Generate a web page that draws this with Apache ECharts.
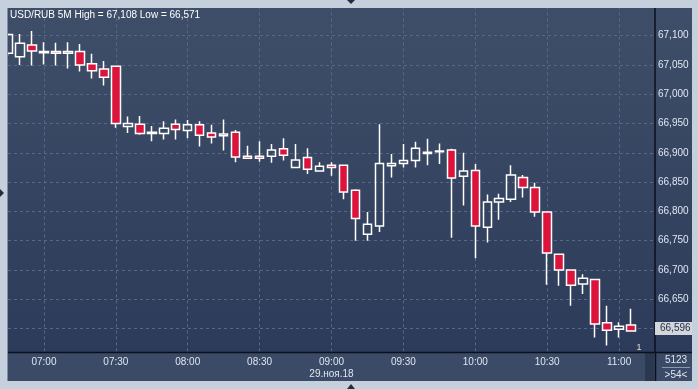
<!DOCTYPE html>
<html>
<head>
<meta charset="utf-8">
<script src="https://cdn.jsdelivr.net/npm/echarts@6/dist/echarts.min.js"></script>
<style>
html,body{margin:0;padding:0;background:#c6d0dc;}
#c{width:698px;height:389px;}
</style>
</head>
<body>
<div id="c"></div>
<script>
// 5-minute slots from 06:45 to 11:15
const categories = ['06:45','06:50','06:55','07:00','07:05','07:10','07:15','07:20','07:25','07:30','07:35','07:40','07:45','07:50','07:55','08:00','08:05','08:10','08:15','08:20','08:25','08:30','08:35','08:40','08:45','08:50','08:55','09:00','09:05','09:10','09:15','09:20','09:25','09:30','09:35','09:40','09:45','09:50','09:55','10:00','10:05','10:10','10:15','10:20','10:25','10:30','10:35','10:40','10:45','10:50','10:55','11:00','11:05','11:10','11:15'];
const openVals  = [67.070,67.064,67.084,67.071,67.073,67.070,67.073,67.052,67.043,67.048,66.945,66.949,66.933,66.933,66.949,66.938,66.948,66.934,66.929,66.935,66.894,66.894,66.894,66.907,66.875,66.892,66.869,66.879,66.879,66.836,66.761,66.775,66.878,66.882,66.887,66.899,66.902,66.905,66.860,66.870,66.773,66.816,66.821,66.858,66.841,66.799,66.727,66.700,66.676,66.684,66.610,66.599,66.606];
const closeVals = [67.102,67.087,67.074,67.073,67.070,67.073,67.050,67.040,67.029,66.950,66.950,66.933,66.935,66.942,66.940,66.948,66.930,66.927,66.932,66.893,66.891,66.891,66.905,66.896,66.888,66.872,66.877,66.875,66.833,66.788,66.778,66.882,66.882,66.887,66.908,66.901,66.903,66.857,66.869,66.775,66.816,66.822,66.862,66.841,66.799,66.729,66.700,66.674,66.686,66.608,66.597,66.604,66.596];
const lowVals   = [67.066,67.050,67.049,67.051,67.049,67.044,67.039,67.027,67.015,66.943,66.934,66.931,66.920,66.923,66.923,66.925,66.911,66.916,66.904,66.884,66.890,66.885,66.883,66.887,66.875,66.864,66.869,66.861,66.821,66.750,66.750,66.765,66.858,66.875,66.875,66.879,66.881,66.755,66.810,66.720,66.747,66.786,66.816,66.824,66.791,66.675,66.673,66.639,66.659,66.585,66.571,66.585,66.596];
const highVals  = [67.104,67.103,67.108,67.089,67.088,67.089,67.086,67.069,67.057,67.048,66.962,66.963,66.946,66.954,66.957,66.956,66.954,66.948,66.957,66.939,66.912,66.920,66.915,66.925,66.915,66.908,66.884,66.884,66.879,66.838,66.799,66.949,66.898,66.915,66.919,66.924,66.916,66.907,66.900,66.881,66.829,66.830,66.879,66.862,66.849,66.799,66.727,66.700,66.693,66.684,66.639,66.611,66.634];
const yTickMin = 66.55, yTickMax = 67.15, yTickStep = 0.05;
const titleText = 'USD/RUB 5M High = 67,108 Low = 66,571';
const dateLabel = '29.ноя.18';
const dateLabelAt = '09:00';
const panelTop = '5123', panelBottom = '>54<';

const fmt = v => v.toFixed(3).replace('.', ',');
const candles = openVals.map((o, i) => [o, closeVals[i], lowVals[i], highVals[i]]);
const lastClose = closeVals[closeVals.length - 1];
const isMajor = (idx, val) => /:(00|30)$/.test(val);
const FONT = 'Liberation Sans';
const frame = '#c6d0dc';

const chart = echarts.init(document.getElementById('c'), null, {renderer: 'canvas'});
chart.setOption({
  animation: false,
  backgroundColor: frame,
  textStyle: {fontFamily: FONT},
  grid: {left: 8, right: 43, top: 6.4, bottom: 31.1, containLabel: false},
  xAxis: [{
    type: 'category', data: categories, boundaryGap: false, position: 'bottom',
    axisLine: {show: false}, axisTick: {show: false}, axisLabel: {show: false},
    splitLine: {show: true, interval: isMajor, lineStyle: {color: '#56678a', type: [3, 3], width: 1}}
  }, {
    type: 'category', data: categories, boundaryGap: false, position: 'bottom', z: 10,
    axisLine: {show: false}, axisTick: {show: false}, splitLine: {show: false},
    axisLabel: {
      show: true, interval: isMajor, margin: -2, color: '#dfe6f0', fontSize: 10,
      fontFamily: FONT, lineHeight: 12,
      formatter: v => v === dateLabelAt ? v + '\n' + dateLabel : v
    }
  }],
  yAxis: {
    type: 'value', position: 'right', min: yTickMin, max: yTickMax, interval: yTickStep,
    axisLine: {show: true, lineStyle: {color: '#0b111c', width: 1.5}},
    axisTick: {show: false},
    axisLabel: {color: '#dfe7f3', fontSize: 10, fontFamily: FONT, margin: 3,
      showMinLabel: false, showMaxLabel: false, formatter: fmt},
    splitLine: {show: true, lineStyle: {color: '#56678a', type: [3, 3], width: 1}}
  },
  series: [{
    type: 'candlestick', xAxisIndex: 0, data: candles, barWidth: 9, clip: true,
    itemStyle: {color: 'transparent', color0: '#dc143c', borderColor: '#ffffff', borderColor0: '#ffffff', borderWidth: 1.5},
    markLine: {
      silent: true, symbol: 'none', animation: false,
      lineStyle: {color: 'transparent', width: 0},
      data: [{yAxis: lastClose}],
      label: {show: true, position: 'end', distance: 0, formatter: () => fmt(lastClose),
        backgroundColor: '#d3d6db', color: '#1d2b45', fontSize: 10, fontFamily: FONT,
        padding: [2, 5, 1, 5], borderRadius: [0, 1, 1, 0]}
    }
  }],
  graphic: [
    // panel background gradient
    {type: 'rect', z: -100, silent: true, shape: {x: 8, y: 8, width: 684, height: 344},
      style: {fill: new echarts.graphic.LinearGradient(0, 0, 0, 1, [{offset: 0, color: '#3f4e68'}, {offset: 1, color: '#2c3b59'}])}},
    // bottom axis strip
    {type: 'rect', z: 5, silent: true, shape: {x: 8, y: 352, width: 684, height: 29}, style: {fill: '#3b4a66'}},
    {type: 'rect', z: 6, silent: true, shape: {x: 645, y: 353, width: 9, height: 28}, style: {fill: '#2a3850'}},
    {type: 'line', z: 6, silent: true, shape: {x1: 8, y1: 352.5, x2: 692, y2: 352.5}, style: {stroke: '#0b111c', lineWidth: 1.5}},
    {type: 'line', z: 6, silent: true, shape: {x1: 655.5, y1: 352, x2: 655.5, y2: 381}, style: {stroke: '#0b111c', lineWidth: 1.5}},
    {type: 'text', z: 11, silent: true, style: {text: panelTop, x: 676, y: 360, align: 'center', verticalAlign: 'middle', fill: '#dfe6f0', font: '10px "Liberation Sans"'}},
    {type: 'line', z: 11, silent: true, shape: {x1: 662, y1: 367.5, x2: 690, y2: 367.5}, style: {stroke: '#8c9ab0', lineWidth: 1}},
    {type: 'text', z: 11, silent: true, style: {text: panelBottom, x: 676, y: 375, align: 'center', verticalAlign: 'middle', fill: '#dfe6f0', font: '10px "Liberation Sans"'}},
    {type: 'text', z: 11, silent: true, style: {text: '1', x: 639, y: 348, align: 'center', verticalAlign: 'middle', fill: '#e8dcc0', font: '9px "Liberation Sans"'}},
    // outer frame
    {type: 'rect', z: 20, silent: true, shape: {x: 0, y: 0, width: 698, height: 8}, style: {fill: frame}},
    {type: 'rect', z: 20, silent: true, shape: {x: 0, y: 381, width: 698, height: 8}, style: {fill: frame}},
    {type: 'rect', z: 20, silent: true, shape: {x: 0, y: 0, width: 7, height: 389}, style: {fill: frame}},
    {type: 'rect', z: 20, silent: true, shape: {x: 692, y: 0, width: 6, height: 389}, style: {fill: frame}},
    {type: 'line', z: 21, silent: true, shape: {x1: 7.5, y1: 8, x2: 7.5, y2: 381}, style: {stroke: '#7f8ea6', lineWidth: 1}},
    {type: 'polygon', z: 22, silent: true, shape: {points: [[347, 0], [355, 0], [351, 4]]}, style: {fill: '#1f2d44'}},
    {type: 'polygon', z: 22, silent: true, shape: {points: [[347, 389], [355, 389], [351, 384]]}, style: {fill: '#1f2d44'}},
    {type: 'polygon', z: 22, silent: true, shape: {points: [[0, 189], [0, 197], [4, 193]]}, style: {fill: '#1f2d44'}},
    // title
    {type: 'text', z: 22, silent: true, style: {text: titleText, x: 10, y: 15, verticalAlign: 'middle', fill: '#ffffff', font: '10px "Liberation Sans"'}}
  ]
});
</script>
</body>
</html>
